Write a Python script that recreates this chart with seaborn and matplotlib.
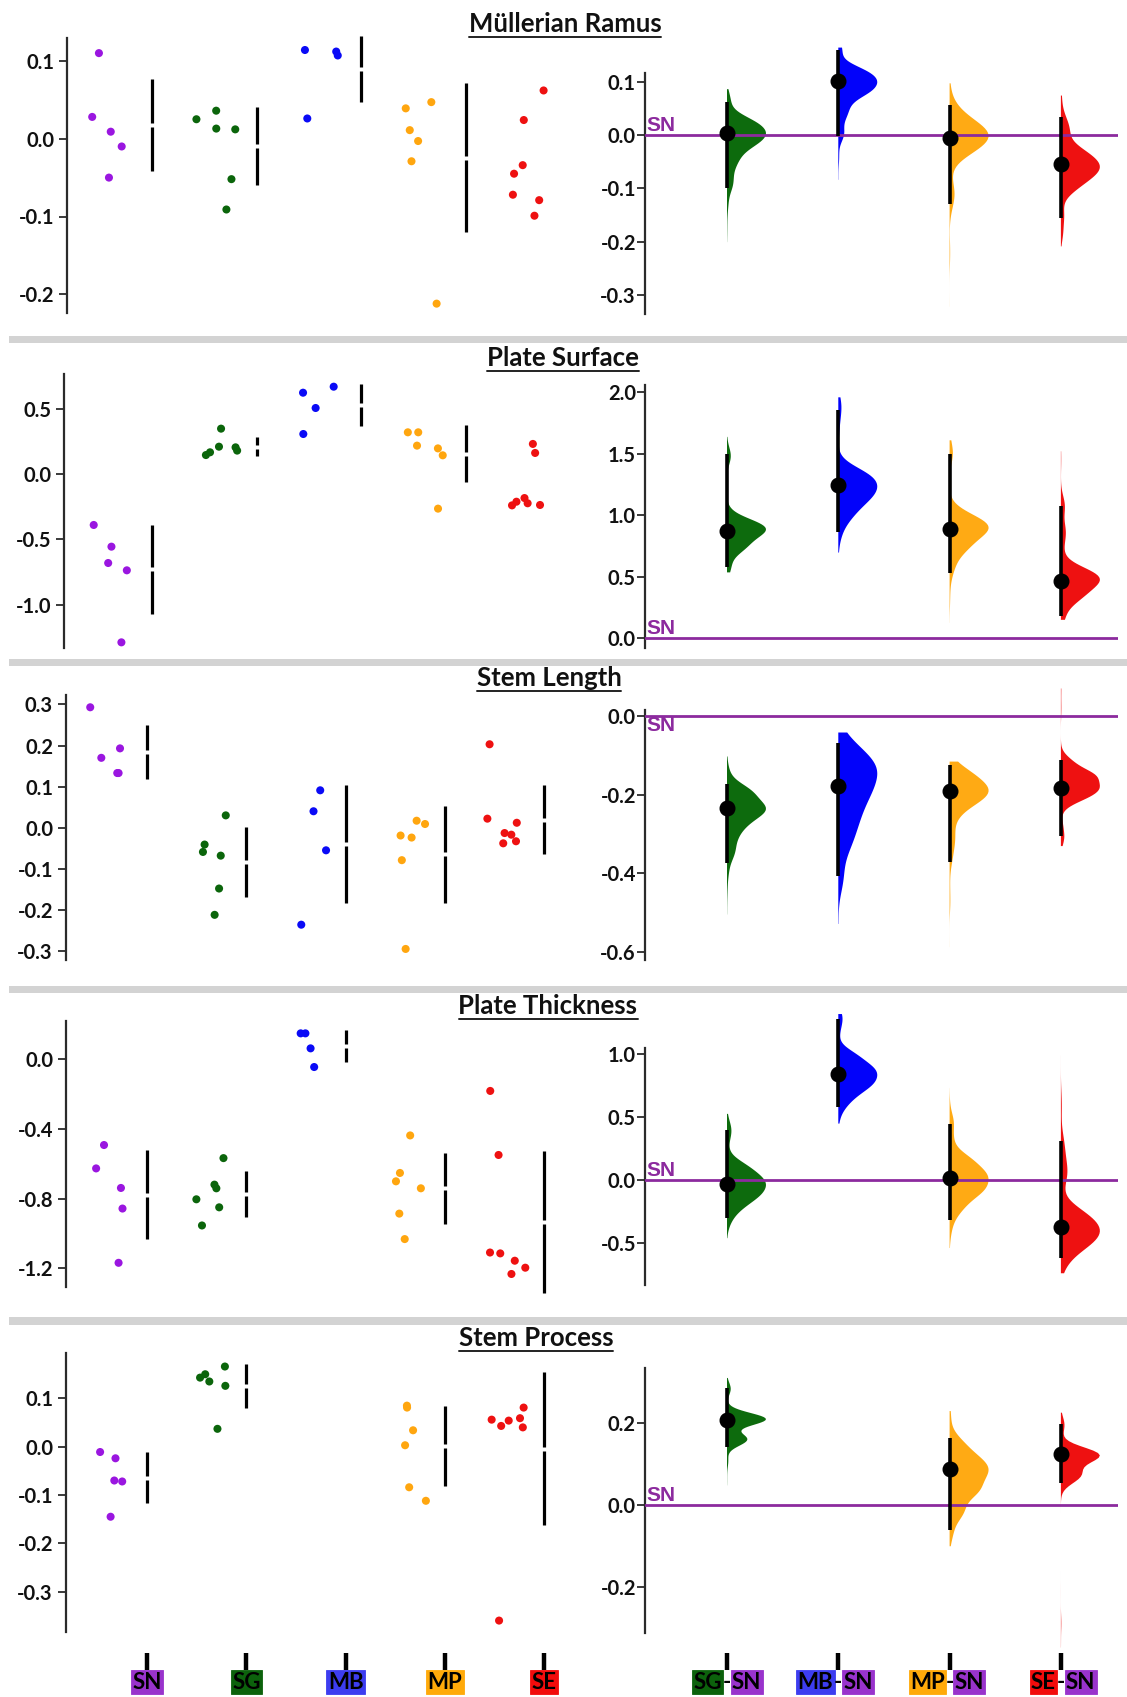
import numpy as np
import pandas as pd
import matplotlib
matplotlib.use("Agg")
import matplotlib.pyplot as plt
import seaborn as sns
from matplotlib.patches import Rectangle
from matplotlib.lines import Line2D

sns.set_theme(style="white")
plt.rcParams["font.family"] = ["Lato", "DejaVu Sans"]
plt.rcParams["axes.unicode_minus"] = False

# ---------------------------------------------------------------- data
GROUPS = ["SN", "SG", "MB", "MP", "SE"]
COMPARISONS = ["SG-SN", "MB-SN", "MP-SN", "SE-SN"]
TRAITS = ["Müllerian Ramus", "Plate Surface", "Stem Length",
          "Plate Thickness", "Stem Process"]

mr_SN = [0.110, 0.028, 0.009, -0.010, -0.050]
mr_SG = [0.036, 0.025, 0.013, 0.012, -0.052, -0.091]
mr_MB = [0.114, 0.107, 0.112, 0.026]
mr_MP = [0.047, 0.039, 0.011, -0.003, -0.029, -0.212]
mr_SE = [0.062, 0.024, -0.034, -0.045, -0.072, -0.079, -0.099]

ps_SN = [-0.390, -0.556, -0.681, -0.737, -1.288]
ps_SG = [0.347, 0.209, 0.204, 0.179, 0.166, 0.145]
ps_MB = [0.668, 0.622, 0.505, 0.306]
ps_MP = [0.319, 0.319, 0.217, 0.196, 0.143, -0.265]
ps_SE = [0.230, 0.161, -0.184, -0.212, -0.224, -0.237, -0.240]

sl_SN = [0.293, 0.193, 0.170, 0.133, 0.133]
sl_SG = [0.030, -0.041, -0.059, -0.068, -0.148, -0.212]
sl_MB = [0.091, 0.040, -0.055, -0.236]
sl_MP = [0.017, 0.009, -0.019, -0.024, -0.079, -0.295]
sl_SE = [0.203, 0.022, 0.012, -0.013, -0.017, -0.033, -0.038]

pt_SN = [-0.493, -0.627, -0.739, -0.857, -1.168]
pt_SG = [-0.568, -0.720, -0.741, -0.804, -0.850, -0.954]
pt_MB = [0.147, 0.147, 0.061, -0.046]
pt_MP = [-0.438, -0.653, -0.701, -0.741, -0.886, -1.032]
pt_SE = [-0.183, -0.550, -1.109, -1.114, -1.156, -1.196, -1.232]

sp_SN = [-0.011, -0.024, -0.070, -0.072, -0.145]
sp_SG = [0.166, 0.150, 0.143, 0.135, 0.126, 0.037]
sp_MB = []
sp_MP = [0.085, 0.081, 0.034, 0.003, -0.084, -0.112]
sp_SE = [0.081, 0.059, 0.056, 0.054, 0.043, 0.040, -0.360]

MEASURES = {
    "Müllerian Ramus": dict(SN=mr_SN, SG=mr_SG, MB=mr_MB, MP=mr_MP, SE=mr_SE),
    "Plate Surface": dict(SN=ps_SN, SG=ps_SG, MB=ps_MB, MP=ps_MP, SE=ps_SE),
    "Stem Length": dict(SN=sl_SN, SG=sl_SG, MB=sl_MB, MP=sl_MP, SE=sl_SE),
    "Plate Thickness": dict(SN=pt_SN, SG=pt_SG, MB=pt_MB, MP=pt_MP, SE=pt_SE),
    "Stem Process": dict(SN=sp_SN, SG=sp_SG, MB=sp_MB, MP=sp_MP, SE=sp_SE),
}

# ---------------------------------------------------------------- styles
DOT_COLORS = {"SN": "#9A16E0", "SG": "#0B650B", "MB": "#0A0AF6",
              "MP": "#FFA60F", "SE": "#EE1111"}
BOX_COLORS = {"SN": "#9933CC", "SG": "#0C620C", "MB": "#3D3DF0",
              "MP": "#FFAA0A", "SE": "#F20C0C"}
VIOLIN_COLORS = {"SG-SN": "#0D6B0D", "MB-SN": "#0202FA",
                 "MP-SN": "#FFAA14", "SE-SN": "#EE1111"}
SN_LINE = "#8C2A9E"
SPINE = "#2B2B2B"

# right half-violins: real comparisons sit on odd hue slots
HUE_SLOTS = []
for c in COMPARISONS:
    HUE_SLOTS += ["_" + c, c]
VIOLIN_PALETTE = {h: VIOLIN_COLORS.get(h, "white") for h in HUE_SLOTS}

# ---------------------------------------------------------------- layout (pixels)
W, H = 1127, 1697
ROW_Y = [(30, 330), (352, 655), (683, 980), (1008, 1310), (1343, 1653)]
LEFT_X = [(67, 548, 152, 104.5), (64, 548, 152, 104.5),
          (65.5, 600, 147, 99.3), (65.5, 600, 147, 99.3), (65.5, 600, 147, 99.3)]
RIGHT_X = (645, 1118, 727, 111.3)
LEFT_Y = [(138.7, 778), (474, 130.7), (827.7, 411), (1059, 174.5), (1446.7, 483)]
RIGHT_Y = [(135, 533), (638.3, 123.2), (716, 393), (1180, 126.2), (1505, 408.5)]
LEFT_SPINE = [(-0.224, 0.129), (-1.331, 0.768), (-0.322, 0.323),
              (-1.305, 0.218), (-0.383, 0.193)]
RIGHT_SPINE = [(-0.336, 0.116), (-0.081, 2.06), (-0.621, 0.015),
               (-0.835, 1.048), (-0.314, 0.335)]
LEFT_TICKS = [[-0.2, -0.1, 0, 0.1], [-1.0, -0.5, 0, 0.5],
              [-0.3, -0.2, -0.1, 0, 0.1, 0.2, 0.3], [-1.2, -0.8, -0.4, 0],
              [-0.3, -0.2, -0.1, 0, 0.1]]
RIGHT_TICKS = [[-0.3, -0.2, -0.1, 0, 0.1], [0, 0.5, 1.0, 1.5, 2.0],
               [-0.6, -0.4, -0.2, 0], [-0.5, 0, 0.5, 1.0], [-0.2, 0, 0.2]]
TITLE_POS = [(565, 32), (563, 366.5), (549, 686.5), (548, 1014), (536, 1346)]
SEPARATORS = [(336, 343), (659, 666), (986, 993), (1317, 1325)]

fig = plt.figure(figsize=(W / 100, H / 100), dpi=100)
fig.patch.set_facecolor("white")


def px_axes(x0, x1, y0, y1):
    return fig.add_axes([x0 / W, 1 - y1 / H, (x1 - x0) / W, (y1 - y0) / H])


def frame(ax, xbox, ybox, yscale, spine, ticks, label_pad):
    x0, x1, c0, step = xbox
    ax.set_xlim((x0 - c0) / step, (x1 - c0) / step)
    zero_px, ppu = yscale
    top, bottom = ybox
    ax.set_ylim(-(bottom - zero_px) / ppu, (zero_px - top) / ppu)
    ax.set_facecolor("none")
    for side in ("top", "right", "bottom"):
        ax.spines[side].set_visible(False)
    ax.spines["left"].set_bounds(*spine)
    ax.spines["left"].set_color(SPINE)
    ax.spines["left"].set_linewidth(1.6)
    ax.set_yticks(ticks)
    ax.set_yticklabels([f"{t:.1f}" for t in ticks], fontweight="bold",
                       fontsize=14.5, color="#111111")
    ax.tick_params(axis="y", direction="out", length=6, width=1.3,
                   color=SPINE, pad=label_pad, left=True)
    ax.set_xlabel("")
    ax.set_ylabel("")
    ax.grid(False)


rng = np.random.default_rng(20)


def boot_median_diff(test, ref, n=5000):
    t = np.asarray(test, float)
    r = np.asarray(ref, float)
    ti = rng.integers(0, len(t), size=(n, len(t)))
    ri = rng.integers(0, len(r), size=(n, len(r)))
    return np.median(t[ti], axis=1) - np.median(r[ri], axis=1)


np.random.seed(11)
axes_bottom = []
for row, trait in enumerate(TRAITS):
    data = MEASURES[trait]
    y0, y1 = ROW_Y[row]

    # ----- left: raw observations with mean ± SD
    lx = LEFT_X[row]
    axl = px_axes(lx[0], lx[1], y0, y1)
    recs = []
    for gi, g in enumerate(GROUPS):
        for v in data[g]:
            recs.append({"group": g, "value": v, "pos": gi - 0.38})
    ldf = pd.DataFrame(recs)
    sns.stripplot(data=ldf, x="pos", y="value", hue="group",
                  palette=DOT_COLORS, native_scale=True, orient="x",
                  jitter=0.2, size=5.8, linewidth=0, legend=False, ax=axl)
    ppu = LEFT_Y[row][1]
    gap = 2.0 / ppu
    for gi, g in enumerate(GROUPS):
        vals = np.asarray(data[g], float)
        if vals.size == 0:
            continue
        m, s = vals.mean(), vals.std(ddof=1)
        axl.vlines([gi, gi], [m - s, m + gap], [m - gap, m + s],
                   color="black", lw=2.3, zorder=3)
    frame(axl, lx, (y0, y1), LEFT_Y[row], LEFT_SPINE[row], LEFT_TICKS[row], 3)

    # ----- right: bootstrap distributions of median differences vs SN
    axr = px_axes(RIGHT_X[0], RIGHT_X[1], y0, y1)
    brecs = []
    stats = {}
    for c in COMPARISONS:
        g = c.split("-")[0]
        if len(data[g]) == 0:
            continue
        boots = boot_median_diff(data[g], data["SN"])
        obs = np.median(data[g]) - np.median(data["SN"])
        stats[c] = (obs, np.percentile(boots, 2.5), np.percentile(boots, 97.5))
        brecs.append(pd.DataFrame({"comparison": c, "diff": boots}))
    bdf = pd.concat(brecs, ignore_index=True)
    sns.violinplot(data=bdf, x="comparison", y="diff", order=COMPARISONS,
                   hue="comparison", hue_order=HUE_SLOTS, dodge=False,
                   palette=VIOLIN_PALETTE, saturation=1, split=True,
                   inner=None, cut=0, density_norm="width", width=0.35,
                   linewidth=0, bw_adjust=2.0, legend=False, ax=axr)
    # anchor each half-violin's flat edge on its category position
    for coll in axr.collections:
        coll.set_edgecolor("none")
        for path in coll.get_paths():
            xmin = path.vertices[:, 0].min()
            path.vertices[:, 0] += round(xmin) - xmin
    axr.axhline(0, color=SN_LINE, lw=2.0, zorder=3)
    for ci, c in enumerate(COMPARISONS):
        if c not in stats:
            continue
        obs, lo, hi = stats[c]
        axr.vlines(ci, lo, hi, color="black", lw=2.6, zorder=4)
        axr.plot([ci], [obs], marker="o", ms=10.5, color="black",
                 linestyle="none", zorder=5)
    frame(axr, RIGHT_X, (y0, y1), RIGHT_Y[row], RIGHT_SPINE[row],
          RIGHT_TICKS[row], 0.5)
    below = trait == "Stem Length"
    axr.text(0.004, 0, "SN", transform=axr.get_yaxis_transform(),
             ha="left", va="top" if below else "bottom",
             color=SN_LINE, fontsize=15, fontweight="bold",
             family=["Liberation Sans", "DejaVu Sans"], zorder=6)

    if row < len(TRAITS) - 1:
        axl.set_xticks([])
        axr.set_xticks([])
    else:
        axes_bottom = [axl, axr]

    # ----- trait title with underline
    tx, ty = TITLE_POS[row]
    fig.text(tx / W, 1 - ty / H, trait, ha="center", va="baseline",
             fontsize=18.5, fontweight="bold", color="#111111")

# ---------------------------------------------------------------- category labels
axl, axr = axes_bottom
axl.set_xticks(range(len(GROUPS)))
axl.set_xticklabels([""] * len(GROUPS))
axr.set_xticks(range(len(COMPARISONS)))
axr.set_xticklabels([""] * len(COMPARISONS))
for ax in (axl, axr):
    ax.tick_params(axis="x", bottom=True, direction="out", length=12,
                   width=3.2, color="black")

LABEL_FONT = dict(fontsize=16, fontweight="bold", color="black", va="center")


def boxed(ax, x, text, dx, ha):
    ax.annotate(text, xy=(x, 0), xycoords=("data", "axes fraction"),
                xytext=(dx, -21), textcoords="offset points", ha=ha,
                bbox=dict(boxstyle="square,pad=0.06", fc=BOX_COLORS[text],
                          ec=BOX_COLORS[text], lw=0.6),
                annotation_clip=False, **LABEL_FONT)


for gi, g in enumerate(GROUPS):
    boxed(axl, gi, g, 0, "center")
for ci, c in enumerate(COMPARISONS):
    a, b = c.split("-")
    boxed(axr, ci, a, -3.6, "right")
    boxed(axr, ci, b, 3.6, "left")
    axr.annotate("-", xy=(ci, 0), xycoords=("data", "axes fraction"),
                 xytext=(0, -21), textcoords="offset points", ha="center",
                 annotation_clip=False, **LABEL_FONT)

# ---------------------------------------------------------------- separators
for s0, s1 in SEPARATORS:
    fig.add_artist(Rectangle((9 / W, 1 - s1 / H), 1 - 9 / W, (s1 - s0) / H,
                             transform=fig.transFigure, color="#D3D3D3",
                             lw=0))

# underline each title
fig.canvas.draw()
renderer = fig.canvas.get_renderer()
for t in fig.texts:
    bb = t.get_window_extent(renderer)
    ty_px = H - t.get_position()[1] * H
    y_line = 1 - (ty_px + 4.5) / H
    fig.add_artist(Line2D([bb.x0 / W, bb.x1 / W], [y_line, y_line],
                          transform=fig.transFigure, color="#222222", lw=1.4))

fig.savefig("out.png", dpi=100, facecolor="white")
